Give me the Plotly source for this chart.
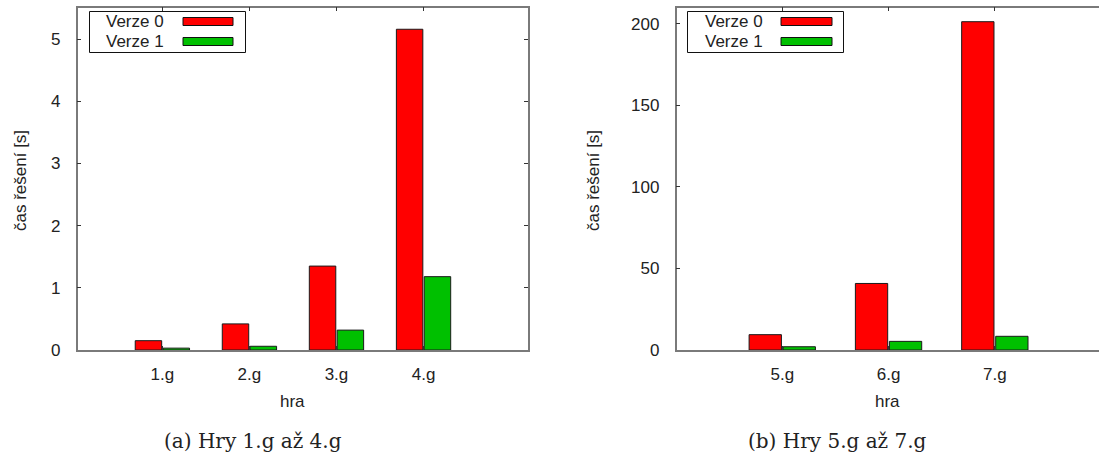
import plotly.graph_objects as go

# Solving times [s] for the two program versions
series_names = ["Verze 0", "Verze 1"]
series_colors = ["#ff0000", "#00c000"]

games_a = ["1.g", "2.g", "3.g", "4.g"]
v0_a = [0.15, 0.42, 1.35, 5.16]
v1_a = [0.03, 0.06, 0.32, 1.18]

games_b = ["5.g", "6.g", "7.g"]
v0_b = [9.4, 40.8, 201.3]
v1_b = [2.0, 5.3, 8.4]

y_title = "čas řešení [s]"
x_title = "hra"
captions = ["(a) Hry 1.g až 4.g", "(b) Hry 5.g až 7.g"]

W, H = 1099, 457
FONT = "Liberation Sans, Arial, sans-serif"
SERIF = "DejaVu Serif, serif"
FS = 17


def px(x):
    return x / W


def py(y):
    return 1 - y / H


fig = go.Figure()
for name, color, vals in zip(series_names, series_colors, [v0_a, v1_a]):
    fig.add_trace(go.Bar(x=games_a, y=vals, name=name, marker_color=color,
                         marker_line=dict(color="#1a1a1a", width=1),
                         xaxis="x", yaxis="y", showlegend=False))
for name, color, vals in zip(series_names, series_colors, [v0_b, v1_b]):
    fig.add_trace(go.Bar(x=games_b, y=vals, name=name, marker_color=color,
                         marker_line=dict(color="#1a1a1a", width=1),
                         xaxis="x2", yaxis="y2", showlegend=False))

ydom = [py(350), py(7.5)]
axis_common = dict(showline=True, linecolor="#7a7a7a", linewidth=1.5,
                   ticks="inside", ticklen=4, tickcolor="#333333",
                   showgrid=False, zeroline=False, automargin=False,
                   tickfont=dict(family=FONT, size=FS, color="#222222"))

fig.update_layout(
    template="none",
    width=W, height=H, margin=dict(l=0, r=0, t=0, b=0, pad=0),
    paper_bgcolor="white", plot_bgcolor="white",
    barmode="group", bargap=0.36, bargroupgap=0.05,
    xaxis=dict(domain=[px(77.5), px(528)], anchor="y", range=[-0.975, 4.2],
               mirror="ticks", ticklabelstandoff=8, **axis_common),
    yaxis=dict(domain=ydom, anchor="x", range=[0, 5.51], dtick=1,
               mirror="ticks", ticklabelstandoff=12, **axis_common),
    xaxis2=dict(domain=[px(676.5), 1.0], anchor="y2", range=[-0.995, 2.98],
                mirror="ticks", ticklabelstandoff=8, **axis_common),
    yaxis2=dict(domain=ydom, anchor="x2", range=[0, 210], dtick=50,
                mirror=False, ticklabelstandoff=12, **axis_common),
)

annotations = []
shapes = []


def label(text, x, y, size=FS, family=FONT, angle=0, xanchor="center"):
    return dict(text=text, x=px(x), y=py(y), xref="paper", yref="paper",
                xanchor=xanchor, yanchor="middle", textangle=angle,
                showarrow=False, font=dict(family=family, size=size, color="#222222"))


# axis titles and sub-figure captions
for yx, hx, cx, cap in [(20, 292, 253, captions[0]), (593, 887, 837, captions[1])]:
    annotations.append(label(y_title, yx, 181, angle=-90))
    annotations.append(label(x_title, hx, 401))
    annotations.append(label(cap, cx, 441, size=20, family=SERIF))

# key boxes: label on the left, colour sample on the right
for bx0, bx1, text_right, sw0, sw1 in [(89.5, 245.5, 166, 183, 233), (687.5, 843.5, 765, 781, 832)]:
    shapes.append(dict(type="rect", xref="paper", yref="paper",
                       x0=px(bx0), x1=px(bx1), y0=py(52.5), y1=py(11.5),
                       line=dict(color="#111111", width=1), fillcolor="rgba(0,0,0,0)"))
    for i, (name, color) in enumerate(zip(series_names, series_colors)):
        yc = 21.5 + 20 * i
        annotations.append(label(name, text_right, yc, xanchor="right"))
        shapes.append(dict(type="rect", xref="paper", yref="paper",
                           x0=px(sw0), x1=px(sw1), y0=py(yc + 4), y1=py(yc - 4),
                           line=dict(color="#111111", width=1), fillcolor=color))

fig.update_layout(annotations=annotations, shapes=shapes)
fig.write_html("out.html")
